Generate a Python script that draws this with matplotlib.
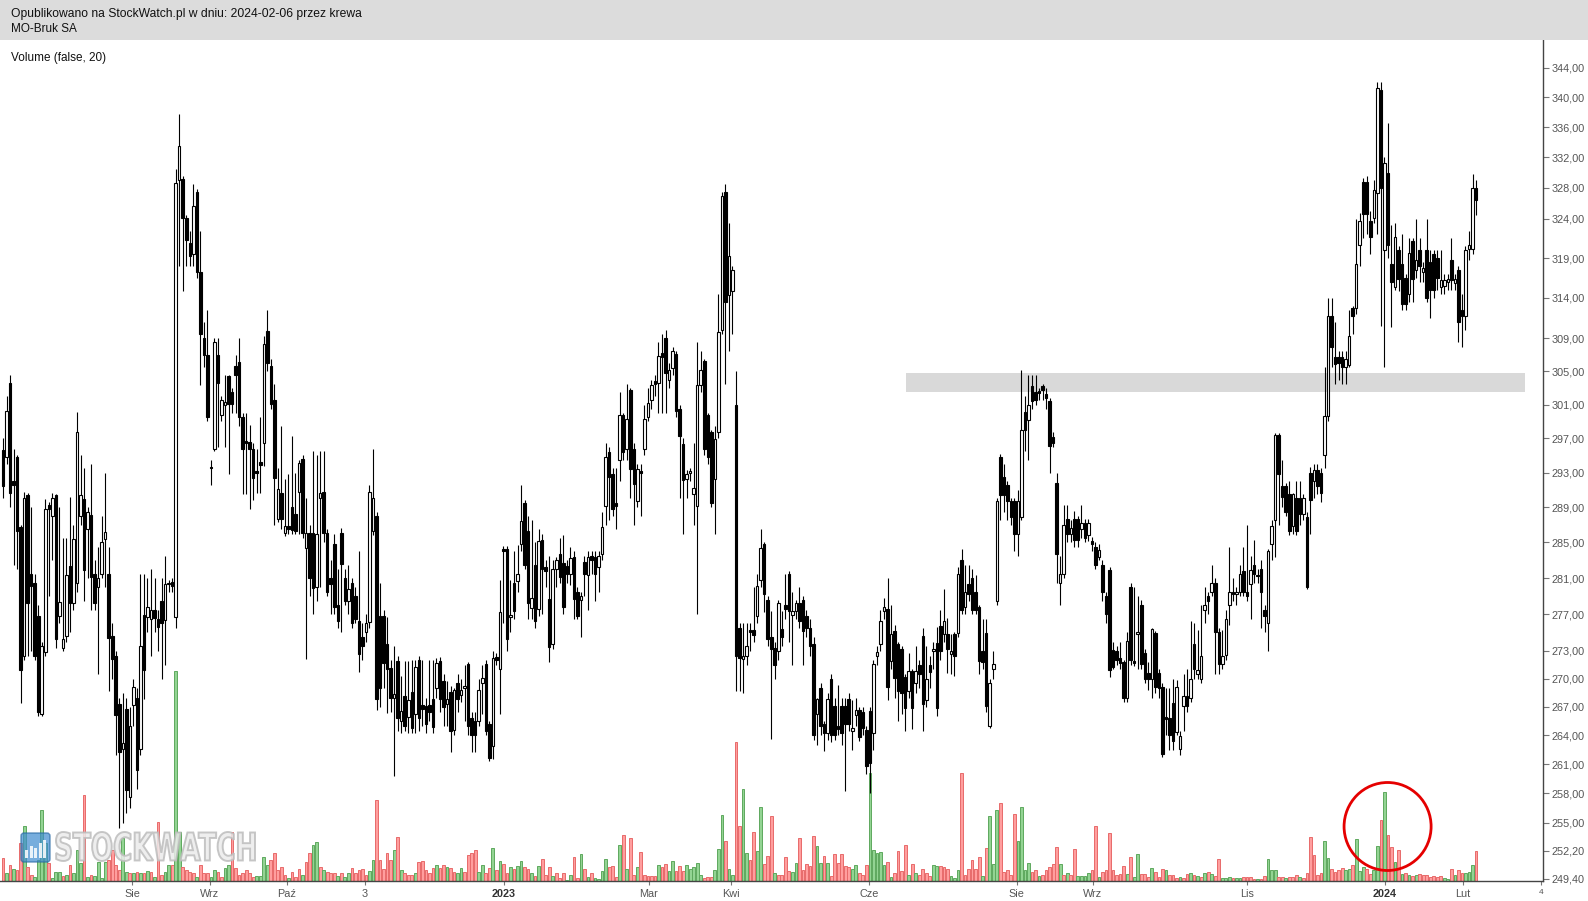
import matplotlib
matplotlib.use('Agg')
import matplotlib.pyplot as plt
from matplotlib.patches import Rectangle, Ellipse, PathPatch, FancyBboxPatch
from matplotlib.ticker import FixedLocator, NullLocator
from matplotlib.textpath import TextPath
from matplotlib.font_manager import FontProperties
from matplotlib.transforms import Affine2D

plt.rcParams['font.family'] = ['Liberation Sans', 'DejaVu Sans']

# MO-Bruk SA, daily candles, mid-June 2022 .. 2024-02-06
opens = [
    295.6, 294.8, 303.6, 292, 294.8, 286.7, 272.4, 290.4, 281.5, 280.5,
    276.8, 266.3, 272.9, 289.2, 288, 290.4, 276.8, 273.3, 274.6, 282.3,
    278.2, 280.5, 288, 289.9, 286.5, 288.1, 281.5, 280, 281.5, 285.4,
    281.5, 274.6, 272.5, 267.3, 262.6, 266.8, 257.6, 267.2, 268, 262.6,
    276.9, 276.7, 276.5, 277.5, 276.5, 278.5, 276.4, 280.3, 280.6, 276.7,
    329, 329.1, 324.1, 320.9, 319.5, 327.4, 317.3, 309.1, 307, 293.7,
    295.8, 307, 299.7, 301, 304.4, 302.5, 305.6, 306.1, 299.5, 296.7,
    296.6, 295.8, 293.2, 294.2, 296.4, 309.9, 305.6, 301.5, 287.7, 290.6,
    286.1, 286.9, 289, 288.2, 290.8, 294.6, 284.4, 286.1, 286.1, 280,
    290, 290.8, 286.1, 281, 284.8, 278, 286.1, 281, 278.5, 280.5,
    279, 276.3, 274.5, 275, 276.1, 286.3, 288, 276.8, 276.8, 273.8,
    271.2, 268, 271.9, 265.5, 268.2, 265.9, 268.6, 266.3, 272, 267.2,
    267.1, 267.2, 267.8, 269, 271.9, 269.8, 267.3, 268.6, 264.6, 269.5,
    268.3, 269, 271.6, 265.8, 265.5, 265.5, 269.5, 271.6, 265.2, 262.9,
    272.3, 271.1, 284.3, 284.3, 276.7, 280.5, 280.7, 284.8, 289.5, 286.3,
    277.7, 282.5, 277.6, 285.3, 282.2, 278.7, 273.8, 282, 283.7, 282.7,
    282.3, 281.5, 283.3, 279.4, 278.6, 282.8, 281.3, 283.5, 283.4, 282.2,
    283.7, 289.1, 295.4, 292.8, 289.5, 294.5, 299.7, 295.8, 302.8, 295.8,
    289.7, 293.2, 295.8, 299.5, 301.5, 303.8, 303.6, 307.2, 309, 303.9,
    305.4, 307.1, 300.5, 296.3, 292.3, 293, 290.5, 289.1, 303.4, 306.3,
    299.7, 297.8, 292.3, 297.8, 310, 327.4, 314.4, 314.8, 301, 275.5,
    272.1, 272.5, 275.3, 275.3, 276.8, 280.8, 284.8, 278.6, 274.5, 273.3,
    273, 275.4, 278, 281.4, 276.9, 277.3, 278.2, 278.6, 276.8, 275.5,
    273.7, 266.3, 269, 265.2, 264.3, 270, 267.1, 265, 267.1, 267.1,
    267.8, 264.5, 266.2, 266.7, 266.5, 264.6, 266.6, 264.3, 272.5, 273.7,
    277.3, 277.6, 271.9, 275.2, 273.8, 273.2, 270.2, 268.7, 270.8, 269.6,
    271.5, 274.6, 267.7, 271.5, 273, 273.9, 275.7, 274.8, 274.8, 272.7,
    274.8, 274.9, 283, 277.8, 280.3, 281, 279.5, 277.8, 273, 274.9,
    265, 271.1, 278.4, 294.8, 292.5, 291.5, 289.7, 289.7, 285.9, 287.9,
    300.1, 299.2, 303.2, 302.5, 302.6, 303.2, 302.3, 301.4, 297.2, 291.8,
    280.5, 281.4, 287.6, 286, 287.6, 287.6, 286.5, 287.2, 285.8, 285.2,
    284.5, 283.4, 282.5, 279, 281.9, 273.1, 273, 272.2, 271.8, 267.9,
    280, 271.9, 274.8, 278, 272.8, 270.6, 270, 274.9, 270.6, 269.1,
    265.9, 265.8, 267.4, 264.4, 262.6, 267.1, 268.2, 267.9, 273.8, 270.5,
    270, 277.5, 279, 279.5, 280.5, 275, 271.6, 272.6, 278, 279.5,
    279.2, 279.4, 281.8, 279.4, 280.3, 282.5, 281.3, 282, 277.5, 276,
    284.8, 287.5, 297.4, 291.4, 291.4, 290.5, 286.8, 290, 290, 288.2,
    287.9, 293, 292, 293.3, 293, 295, 299.6, 311.8, 306.7, 306.7,
    306.7, 305.5, 305.8, 312.8, 312.8, 320.6, 328.7, 328.7, 323.7, 324.1,
    327.3, 341, 320, 330, 318.2, 315.4, 320, 318.2, 316.5, 314.5,
    321.2, 317.5, 320, 317.2, 320, 318.5, 319.5, 319, 315.3, 315.5,
    316, 318.8, 315.8, 317.5, 312.5, 311.8, 320.2, 320.2, 328,
]
highs = [
    297, 302, 304.5, 295.8, 295, 287, 290.8, 290.6, 289, 281.5,
    278, 274, 289.9, 289.6, 290.6, 290.5, 289, 285.5, 285.5, 290.2,
    287, 300.1, 295, 293.5, 289, 294, 283, 284.5, 288, 293,
    284.5, 276, 273, 268, 268.5, 268, 267, 270, 269, 281.5,
    281.5, 281, 282, 281, 277.5, 281, 283.5, 280.8, 281, 330.5,
    337.8, 329.5, 324.5, 322.5, 328.5, 327.8, 322.5, 311, 312.5, 294.5,
    309, 309, 302, 304.5, 304.5, 303, 307, 309, 300, 300,
    298.6, 296.5, 295.8, 299.5, 309.3, 312.5, 306.5, 303.5, 293.5, 298.5,
    292.2, 292.8, 297.3, 293, 294.5, 295, 290, 287, 295.5, 295,
    295.5, 295.5, 286.5, 283, 286, 282, 286.6, 282, 282.5, 281,
    280, 284, 276, 277, 291.5, 295.8, 288.5, 280.5, 277.5, 276.7,
    272, 273.5, 272.5, 270.3, 271.9, 271.9, 272, 272, 272.5, 272,
    268, 272, 272, 272.2, 272.3, 270.5, 269.8, 269.2, 269, 270.5,
    270, 271.5, 271.8, 266.5, 266.5, 270, 271.5, 272, 265.5, 273,
    272.8, 280.8, 284.6, 284.6, 280.8, 284, 284.7, 291.5, 289.8, 288,
    287.5, 285, 286.5, 286, 283, 283.5, 283, 283.4, 285.5, 285.8,
    283, 284.5, 284, 280, 279.5, 283.5, 284, 284, 284, 284,
    288.5, 296.5, 296, 293.5, 293.5, 302.5, 300, 303.5, 303, 296.5,
    294, 294, 301, 303, 304, 304.5, 308.5, 309.5, 310, 306,
    308, 307.5, 301, 297, 293.3, 293.5, 296.5, 308.5, 307.5, 306.5,
    300, 298, 298.5, 314.5, 327.5, 328.5, 323.5, 318, 305, 276,
    276, 276, 276, 280, 281.5, 286.5, 285, 279, 277.3, 274,
    278.6, 277.3, 281.5, 281.8, 279.5, 278.6, 280, 279, 277.5, 276.5,
    274.5, 267.9, 269.5, 265.5, 268.5, 270.5, 268, 269.3, 268, 268,
    268.5, 267.7, 268, 267, 267, 265, 267, 272, 273.5, 277.5,
    278.8, 281, 278, 275.8, 274, 273.5, 270.5, 272.8, 271, 273.5,
    272, 275.5, 273.5, 272.5, 274, 275.6, 277.5, 279.8, 276.6, 274.8,
    275, 282.2, 284.3, 282.5, 282.5, 282, 281.3, 278, 276.5, 276.5,
    270, 273, 290, 295.2, 294, 292, 290, 290, 291, 305.1,
    302, 304.5, 304.5, 304.5, 303, 303.5, 303, 301.8, 297.8, 293,
    283.5, 289.3, 289.3, 287.5, 288.6, 288, 289.3, 287.6, 287.6, 285.6,
    285, 284.8, 283, 279.5, 282.2, 274, 273.5, 274, 272, 275,
    280.5, 280, 279, 278.6, 273.2, 271.8, 275.5, 275.2, 271, 269.5,
    269, 269, 270, 269.9, 264.5, 270.5, 271, 276.2, 276, 275.3,
    278, 280, 279.4, 282.5, 281, 275.5, 275.3, 277.5, 284.5, 281,
    280, 282.5, 284.5, 287, 283.5, 285.3, 282, 283, 278, 284.2,
    287.5, 297.6, 297.6, 294.5, 291.8, 292, 290.6, 292, 292, 290.5,
    288.5, 293.6, 294, 294, 293.5, 305.5, 314, 314, 311, 307.5,
    307.5, 307.5, 312.5, 313, 324, 324.8, 329.3, 329.5, 325, 329,
    342, 342, 332, 336.5, 323.2, 323.5, 320.5, 322, 317, 321.5,
    321.5, 324, 321.5, 318.5, 324, 320, 320, 320, 320, 317,
    317, 321.5, 317, 318, 314.5, 320.5, 322.5, 329.8, 329,
]
lows = [
    290, 294, 289, 282.5, 282, 267.4, 272, 272.4, 273, 272,
    266, 266, 272.5, 279, 283, 273.3, 276, 273, 274, 275,
    277.5, 279.5, 287, 278.5, 281, 277.5, 277.5, 270.5, 281, 280,
    268.7, 270, 262, 254.5, 255, 256, 256.5, 265, 258.5, 262,
    267.8, 275, 272.5, 275, 273, 270, 271.5, 279.5, 279.5, 275.5,
    318, 314.8, 318, 318, 318, 316.5, 303.4, 305.5, 299, 291.5,
    295.5, 296, 299, 296, 292.8, 300, 300, 298.5, 290.5, 290.5,
    288.8, 289.8, 290.6, 290.6, 293.8, 305, 300.5, 287, 287.3, 286.5,
    285.7, 286, 286, 286, 286, 285.5, 272.1, 279, 277, 278.5,
    280, 285, 279, 277, 277, 275.5, 275, 278, 277, 275.5,
    276, 270.7, 272, 274, 275.5, 285.8, 266.7, 267, 269, 266.4,
    266.5, 259.8, 264.5, 264.3, 264.5, 264.3, 264.3, 264.3, 264.5, 265,
    264.3, 265.5, 264.3, 268, 266.5, 265, 265, 262.3, 264, 266.5,
    267.5, 265.5, 264, 262.3, 262.3, 265, 266.3, 264, 261.3, 261.5,
    271.5, 266.3, 276, 273, 275, 276.5, 279.5, 284, 282, 276.5,
    276.5, 275.5, 276.8, 277, 280, 271.8, 273.2, 280, 280.5, 277,
    280.5, 280.2, 276.5, 276.5, 274.5, 279, 277.5, 281.5, 278.5, 279.5,
    283, 287, 287.5, 288, 286.5, 292, 294.5, 294.5, 290, 287,
    289, 288, 295, 299, 300.5, 302, 300, 300, 300, 303,
    304.5, 299.5, 290, 286, 290, 292, 287, 277, 302.5, 295,
    294, 289, 286, 297, 309.5, 303.5, 307.5, 309.5, 268.7, 268.7,
    268.5, 271.5, 273, 274, 276, 280, 277.2, 273.5, 263.6, 270,
    272, 273.5, 276.5, 274, 271.5, 276.5, 275.5, 271.5, 274.5, 272.5,
    263.5, 263, 264, 262.4, 263.5, 263.3, 263.5, 264, 263, 258.2,
    264.5, 262.5, 265, 263.4, 264, 260, 258, 262.5, 271.5, 273,
    276.5, 267.7, 271, 268, 265.5, 266.3, 264.5, 268, 264.7, 268.5,
    269, 264.5, 267, 269, 271, 266, 272, 274, 270.6, 270.5,
    270.3, 274.5, 277, 277, 278.5, 277, 277, 270.5, 271, 266.5,
    264.8, 270, 278, 287.5, 288.5, 287.5, 287, 284, 283.5, 287.5,
    295.5, 294.5, 300.5, 301, 301.5, 301.5, 300.5, 293, 296, 280.5,
    278, 281, 285, 285, 284.5, 284.5, 285.5, 285, 285.2, 284,
    282, 283, 278.5, 276, 270.2, 271, 271.5, 271, 267.5, 267.5,
    271.5, 271.4, 271, 271, 269.5, 268.8, 268, 268.5, 268, 261.8,
    264, 262.5, 262.5, 264, 262, 264.5, 266.5, 267.5, 270, 270,
    269.5, 276, 277, 279, 270.5, 270.5, 271, 272, 275.8, 278.5,
    278, 279, 279, 278.5, 276.5, 280.5, 280.5, 275.5, 275, 273,
    283, 283.3, 287, 289, 288, 285.8, 286, 285.8, 287, 287.5,
    279.8, 286, 290, 290.5, 289.6, 293.5, 299, 305.5, 303.5, 304,
    303.5, 303.5, 305.5, 309.5, 312, 318, 321.5, 322, 319.5, 323.5,
    322, 310.5, 305.5, 319, 310.4, 315, 314.9, 312.5, 312.5, 313.5,
    313.5, 316.5, 316, 316, 313.5, 311.5, 314, 315, 314.5, 314.5,
    315, 315, 315, 308.5, 308, 310, 318.8, 319.5, 324.5,
]
closes = [
    291.4, 300.2, 290.6, 291.6, 286.3, 270.9, 290.1, 278.2, 280.1, 272.5,
    266.5, 273.5, 288.8, 288.8, 290.1, 274.3, 278.3, 274.3, 281.3, 278.2,
    285.4, 297.7, 290.4, 281.9, 288.4, 281.1, 278.2, 281, 285, 286.2,
    274.4, 272.1, 266.1, 262.3, 263.2, 258.4, 265, 269.1, 260.4, 273.5,
    270.9, 277.8, 277.5, 276.6, 275.6, 276, 280.3, 280.5, 280.1, 328.6,
    333.5, 324.1, 321.3, 319.2, 325.6, 317.3, 309.6, 307, 299.5, 293.5,
    308.6, 303.6, 301.6, 301.3, 301.1, 301.1, 304.5, 299.5, 295.7, 296.5,
    295.8, 292.4, 292.9, 293.9, 308.3, 306, 301.1, 292.4, 291.1, 287.7,
    286.8, 286.5, 286.4, 286.3, 294.1, 286.1, 286.1, 281, 279.9, 286,
    290.6, 286.1, 279.5, 280.3, 277.8, 276.3, 282.6, 278.5, 279.8, 276,
    276.5, 272.7, 273.5, 276, 290.8, 290.1, 267.8, 269, 271.7, 271,
    268, 268.4, 265.8, 266.6, 265, 267.7, 264.8, 271.3, 265.8, 266.8,
    265.2, 266.5, 264.9, 271.7, 267.8, 267, 267.8, 264.5, 268.8, 267.8,
    268.8, 269.2, 265, 264, 264, 268.8, 270.1, 264.5, 261.7, 272.2,
    272, 277.2, 284, 274.3, 276.9, 277.4, 281.4, 287.4, 282.5, 278.2,
    278.8, 276.3, 285.1, 282, 281.8, 273.4, 282, 283, 281.1, 277.8,
    281.5, 283.2, 278.7, 276.8, 279, 281.5, 283.3, 283, 281.5, 283.5,
    286.7, 294.8, 292.5, 288.8, 289.1, 299.7, 295.4, 299.3, 293.4, 291.7,
    293.4, 292.9, 299.3, 301.2, 303.4, 303.5, 306.8, 306.7, 304.8, 305.2,
    307.5, 300.2, 297.3, 292.1, 292.8, 293.1, 291.2, 303.4, 305.1, 295.8,
    294.8, 289.5, 296.9, 309.8, 326.9, 313.5, 319.3, 317.5, 272.4, 272.2,
    272.4, 273.5, 275, 274.7, 280.1, 284.4, 279.2, 274.3, 273.2, 271.5,
    278.2, 274.5, 277.6, 277.3, 277.3, 278.2, 276.3, 275.2, 275.5, 273.5,
    264, 267.8, 265, 264.3, 267.8, 264, 264, 264.7, 264.3, 265.2,
    265.2, 264.8, 266.7, 263.8, 264.8, 260.8, 261.1, 271.6, 272.9, 276.3,
    277.8, 269.1, 274.8, 270.1, 268.7, 268.5, 266.9, 270.8, 266.9, 270.8,
    270.5, 267.3, 270, 270.7, 273.2, 266.9, 273, 276.2, 273.2, 273,
    272.5, 281.4, 277.5, 279.5, 279.2, 277.5, 277.5, 271.9, 271.8, 267.1,
    269.6, 271.6, 289.7, 290.4, 290.4, 289.7, 287.9, 285.9, 289.7, 298,
    298, 301, 301.4, 301.5, 302.4, 302.7, 301.8, 296.1, 296.5, 283.7,
    281.4, 287, 285.9, 286.6, 285.3, 285.3, 287.2, 285.5, 287.2, 284.8,
    282.5, 284.1, 279.5, 277, 270.9, 271.3, 272, 271.7, 267.9, 274.1,
    272, 271.7, 275.1, 271.6, 270, 270, 275.4, 269.1, 269, 262.1,
    265.7, 264.1, 263.4, 269.1, 263.9, 268.2, 267.1, 270, 271.1, 270.9,
    272.4, 278, 278.4, 280.5, 275, 271.6, 272.5, 276.5, 279.4, 279.2,
    279.5, 281.4, 279.5, 279, 281.9, 281.4, 281.2, 279.5, 276.8, 284,
    286.8, 297.4, 292.8, 290.2, 288.5, 286.3, 290.5, 286.3, 288.2, 290,
    280, 289.8, 293.3, 291.4, 290.6, 299.6, 311.8, 308, 305.9, 306,
    305.5, 306.5, 309.3, 311.8, 318.2, 323.7, 324.6, 324.6, 321.7, 327.7,
    341.3, 328, 331.2, 320.6, 316, 321.7, 316.4, 313.3, 313.3, 319.7,
    316.3, 318.8, 318, 317.8, 314, 315, 315, 316.5, 316.2, 316.2,
    316.4, 316.2, 316.3, 311, 311.8, 320, 320.6, 328, 326.4,
]
# volume bar heights and their colours (g = up, r = down) as drawn on the chart
volumes = [
    23, 8, 16, 12, 11, 38, 55, 14, 6, 4,
    21, 71, 38, 18, 3, 9, 9, 5, 6, 16,
    8, 31, 18, 86, 4, 6, 5, 19, 3, 19,
    21, 31, 16, 11, 43, 9, 8, 8, 9, 8,
    8, 10, 9, 4, 59, 6, 9, 16, 16, 210,
    49, 14, 11, 9, 8, 4, 16, 8, 8, 4,
    11, 9, 4, 13, 16, 49, 13, 6, 8, 11,
    8, 4, 5, 5, 24, 16, 21, 28, 11,
    14, 6, 3, 9, 4, 12, 6, 19, 28,
    36, 39, 14, 11, 9, 8, 8, 5, 8, 4,
    8, 13, 8, 11, 12, 6, 10, 21, 81, 21,
    12, 28, 21, 31, 44, 11, 8, 6, 6, 8,
    19, 20, 11, 8, 13, 16, 13, 16, 14,
    13, 9, 8, 13, 9, 26, 28, 31, 9,
    16, 8, 13, 33, 11, 20,
    17, 8, 14, 12, 15, 20, 14, 12, 8, 5,
    15, 22, 6, 14, 5, 8, 3, 8, 1, 6,
    24, 3, 27, 12, 4, 8, 3, 2, 10, 22,
    14, 15, 4, 36, 46, 12, 43, 6, 14, 29,
    6, 5, 5, 5, 16, 14, 17, 10, 20, 10,
    15, 10, 16, 12, 14, 18, 6, 3, 4, 4,
    11, 32, 66, 40, 12, 6, 139, 55, 92, 28,
    21, 49, 30, 74, 17, 25, 65, 8, 6, 6,
    24, 10, 9, 18, 43, 11, 17, 15, 45, 35,
    18, 25, 18, 5, 27, 18, 27, 15, 14, 12,
    16, 8, 6, 16, 108, 31, 28, 29, 16, 19,
    4, 8, 30, 10, 36, 6, 17, 8, 6, 12,
    8, 5, 16, 15, 15, 14, 12, 5, 3, 11,
    108, 6, 12, 21, 12, 24, 5, 33, 65, 17,
    71, 78, 9, 11, 6, 67, 40, 74, 11, 18,
    9, 11, 5, 6, 11, 14, 17, 34, 17, 6,
    8, 6, 32, 5, 5, 5, 8, 11, 55, 4,
    9, 11, 48, 11, 6, 7, 15, 7, 24, 4,
    27, 7, 7, 4, 13, 9, 4, 12, 11, 6,
    6, 3, 4, 3, 7, 8, 6, 5, 4, 8,
    9, 7, 5, 22, 3, 3, 4, 3, 3, 3,
    4, 4, 4, 2, 2, 2, 5, 22, 11, 11,
    4, 4, 3, 4, 4, 6, 4, 3, 8, 44,
    26, 6, 8, 40, 23, 12, 9, 11, 13, 11,
    12, 16, 42, 10, 14, 12, 7, 11, 35, 61,
    89, 46, 34, 19, 31, 7, 8, 6, 5, 6,
    7, 6, 6, 4, 5, 4, 5, 3, 2, 12,
    6, 11, 8, 8, 9, 16, 30,
]
vol_dirs = "".join([
    "rgrgrrgrrg", "gggrgggrgr", "gggrgrgggg", "rrrrggrgrg", "rgrgrrggrg",
    "grrrrgrrrg", "grrggrrrrr", "rrggggrrr", "rrgrrrgrr", "ggrgrrrgrg",
    "grrrrrggrr", "rrrgrgrrrg", "rrrrrgrrg", "rrggrrrrg", "grrgrg",
    "rrgrggrrgr", "grrrgrrrgg", "rrgrgrgggg", "rrrgrgrrgr", "rrrrgrrggr",
    "rrgggggrrr", "gggrggrrgg", "rrggrrrgrr", "rrggrrrrrg", "grgrrrrrrg",
    "grrrgggggr", "grrrrgrgrr", "rrggrrrggg", "rrrrrrgrgg", "grrrrrgggg",
    "rrgrrrrrgr", "grrggggrrg",
    "rrrrrrrgrg", "grrrgrrrgr", "rrgrrgrgrg", "rgrrgggrgg", "rrrrgrrggg",
    "rrgrrrgrrr", "rrrggrrrrg", "grgggrrggr", "grrgrgrgrg", "rrrrrrrggr",
    "grrgggr",
])

# month tick positions on the candle index axis
tick_pos = [36.6, 58.7, 80.6, 102.7, 142.2, 183.3, 206.6, 245.7, 287.7, 309.3,
            353.0, 392.2, 414.3, 436.4]
tick_labels = ['Sie', 'Wrz', 'Pa\u017a', '3', '2023', 'Mar', 'Kwi', 'Cze', 'Sie',
               'Wrz', 'Lis', '2024', 'Lut', '4']
price_ticks = [249.4, 252.2, 255, 258, 261, 264, 267, 270, 273, 277, 281, 285, 289,
               293, 297, 301, 305, 309, 314, 319, 324, 328, 332, 336, 340, 344]
zone_low, zone_high = 302.5, 304.8
zone_start, zone_end = 256.2, 431.9


def main():
    W, H = 1588, 901
    n = len(closes)
    xs = list(range(n))
    fig = plt.figure(figsize=(W / 100, H / 100), dpi=100)
    fig.patch.set_facecolor('white')
    rect = [0, 20 / H, 1543 / W, 841 / H]
    axv = fig.add_axes(rect)
    ax = fig.add_axes(rect)
    ax.patch.set_visible(False)

    # header band
    fig.patches.append(Rectangle((0, 1 - 40 / H), 1, 40 / H, transform=fig.transFigure,
                                 facecolor='#dcdcdc', edgecolor='none', zorder=0))
    fig.text(11 / W, 1 - 13.5 / H, 'Opublikowano na StockWatch.pl w dniu: 2024-02-06 przez krewa',
             fontsize=8.7, color='#111111', va='center')
    fig.text(11 / W, 1 - 28.5 / H, 'MO-Bruk SA', fontsize=8.5, color='#111111', va='center')
    fig.text(11 / W, 1 - 58.5 / H, 'Volume (false, 20)', fontsize=8.5, color='#111111', va='center')

    # volume
    vcol = {'g': '#93d493', 'r': '#ff9e9e'}
    vedge = {'g': '#5ea85e', 'r': '#e86a6a'}
    axv.bar(xs, volumes, width=0.78,
            color=[vcol[d] for d in vol_dirs],
            edgecolor=[vedge[d] for d in vol_dirs], linewidth=0.7)
    axv.set_xlim(-0.85, 437)
    axv.set_ylim(0, 841)
    axv.axis('off')
    axv.add_patch(Ellipse((392.9, 54.5), 24.7, 88, fill=False, edgecolor='#e50000',
                          linewidth=2.0, zorder=5))

    # price
    ax.set_yscale('log')
    ax.add_patch(Rectangle((zone_start, zone_low), zone_end - zone_start, zone_high - zone_low,
                           facecolor='#d9d9d9', edgecolor='none', zorder=1))
    ax.vlines(xs, lows, highs, color='black', linewidth=0.8, zorder=2)
    bottoms = [min(o, c) for o, c in zip(opens, closes)]
    heights = [max(abs(c - o), 0.12) for o, c in zip(opens, closes)]
    faces = ['white' if c >= o else 'black' for o, c in zip(opens, closes)]
    ax.bar(xs, heights, bottom=bottoms, width=0.72, color=faces, edgecolor='black',
           linewidth=0.8, zorder=3)

    ax.set_xlim(-0.85, 437)
    ax.set_ylim(249.2, 347.8)
    ax.yaxis.tick_right()
    ax.yaxis.set_major_locator(FixedLocator(price_ticks))
    ax.yaxis.set_minor_locator(NullLocator())
    ax.set_yticklabels([('%.2f' % v).replace('.', ',') for v in price_ticks])
    ax.tick_params(axis='y', which='major', direction='out', length=4, width=0.8,
                   color='#777777', labelcolor='#555555', labelsize=7.8, pad=2)
    ax.set_xticks(tick_pos)
    ax.set_xticklabels(tick_labels)
    ax.tick_params(axis='x', direction='out', length=3, width=0.8, color='#777777',
                   labelcolor='#555555', labelsize=7.8, pad=3)
    for lab in ax.get_xticklabels():
        if lab.get_text() in ('2023', '2024'):
            lab.set_fontweight('bold')
            lab.set_color('#333333')
        if lab.get_text() == '4':
            lab.set_fontsize(6)
    for side in ('top', 'left'):
        ax.spines[side].set_visible(False)
    for side in ('right', 'bottom'):
        ax.spines[side].set_color('#444444')
        ax.spines[side].set_linewidth(1.0)

    # STOCKWATCH watermark (pixel coordinates)
    tp = TextPath((0, 0), 'STOCKWATCH', size=10,
                  prop=FontProperties(family='DejaVu Sans', weight='bold'))
    bb = tp.get_extents()
    tr = Affine2D().translate(-bb.x0, -bb.y0).scale(199 / bb.width, 29 / bb.height).translate(56, H - 861)
    fig.patches.append(PathPatch(tr.transform_path(tp), transform=None, facecolor='#ececec',
                                 edgecolor='#bdbdbd', linewidth=1.4, alpha=0.85, zorder=10))
    icon = FancyBboxPatch((21, H - 862), 29, 29, boxstyle='round,pad=0,rounding_size=3',
                          transform=None, facecolor='#3d8bcf', edgecolor='#2a6aa5',
                          linewidth=1, alpha=0.7, zorder=10)
    fig.patches.append(icon)
    for k, hb in enumerate([8, 12, 10, 15, 18]):
        fig.patches.append(Rectangle((25 + k * 4.6, H - 858), 3, hb, transform=None,
                                     facecolor='white', edgecolor='none', alpha=0.85, zorder=11))

    fig.savefig('out.png', dpi=100)


if __name__ == '__main__':
    main()
